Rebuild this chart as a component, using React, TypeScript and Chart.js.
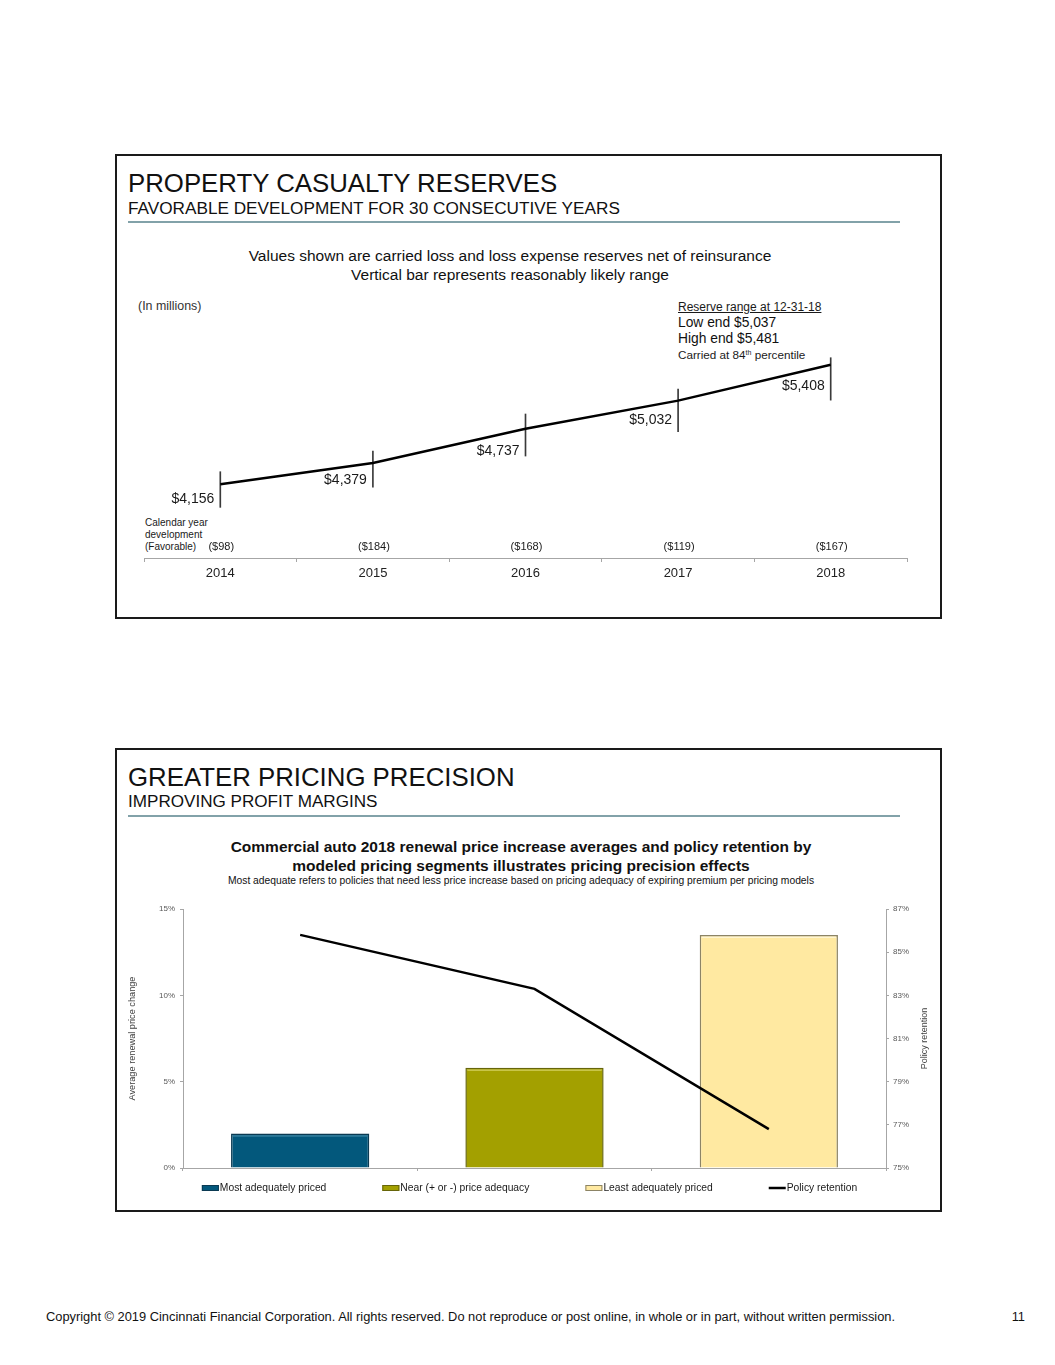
import React, { useEffect, useRef } from "react";
import { Chart, registerables } from "chart.js";

Chart.register(...registerables);

const FONT = '"Liberation Sans", Arial, Helvetica, sans-serif';

// ---------- Data: reserves chart ----------
const reserveYears = ["2014", "2015", "2016", "2017", "2018"];
const reserveValues = [4156, 4379, 4737, 5032, 5408];
const reserveLow = [3915, 4125, 4452, 4707, 5037];
const reserveHigh = [4288, 4505, 4892, 5154, 5481];
const devValues = [-98, -184, -168, -119, -167];

// ---------- Data: pricing chart ----------
const segmentLabels = ["Most adequately priced", "Near (+ or -) price adequacy", "Least adequately priced"];
const priceChange = [2.0, 5.8, 13.5];
const retentionLabel = "Policy retention";
const retention = [85.8, 83.3, 76.8];
const priceAxis = { min: 0, max: 15, step: 5 };
const retentionAxis = { min: 75, max: 87, step: 2 };

// styling (not data)
const VALUE_LABEL_DY = [15, 17, 22, 20, 21];
const SEG_FILL = ["#03587c", "#a3a000", "#ffe9a1"];
const SEG_BORDER = ["#0b3a52", "#66650a", "#8c8466"];
const SEG_HI = ["#4f93b0", "#cfcc55", "#fff6d6"];

const money = (v: number) => "$" + v.toLocaleString("en-US");
const dev = (v: number) => "($" + Math.abs(v).toLocaleString("en-US") + ")";

function Txt(props: { x: number; cy: number; fs: number; children: any; align?: "left" | "center" | "right"; bold?: boolean; color?: string; underline?: boolean }) {
  const { x, cy, fs, align = "left", bold, color = "#111", underline } = props;
  const style: any = {
    position: "absolute",
    top: cy - fs * 0.59,
    fontSize: fs,
    lineHeight: `${fs * 1.2}px`,
    fontFamily: FONT,
    fontWeight: bold ? "bold" : "normal",
    color,
    whiteSpace: "nowrap",
    textDecoration: underline ? "underline" : "none",
  };
  if (align === "left") style.left = x;
  else if (align === "right") { style.right = 1055 - x; }
  else { style.left = x - 500; style.width = 1000; style.textAlign = "center"; }
  return <div style={style}>{props.children}</div>;
}

const reserveLabelsPlugin = {
  id: "reserveLabels",
  afterDatasetsDraw(chart: any) {
    const ctx = chart.ctx;
    const xs = chart.scales.x;
    const ys = chart.scales.y;
    ctx.save();
    ctx.fillStyle = "#1a1a1a";
    ctx.font = `14px ${FONT}`;
    ctx.textAlign = "right";
    ctx.textBaseline = "middle";
    reserveValues.forEach((v, i) => {
      const x = xs.getPixelForValue(i);
      const y = ys.getPixelForValue(v);
      ctx.fillText(money(v), x - 6, y + VALUE_LABEL_DY[i]);
    });
    ctx.font = `11px ${FONT}`;
    ctx.textAlign = "center";
    devValues.forEach((v, i) => {
      const x = xs.getPixelForValue(i);
      ctx.fillText(dev(v), x + 1, xs.top - 11);
    });
    ctx.restore();
  },
};

function ReserveChart() {
  const ref = useRef<HTMLCanvasElement>(null);
  useEffect(() => {
    const chart = new Chart(ref.current!, {
      type: "bar",
      data: {
        labels: reserveYears,
        datasets: [
          {
            type: "line",
            data: reserveValues,
            borderColor: "#000",
            borderWidth: 2.5,
            pointRadius: 0,
            tension: 0,
            order: 0,
          } as any,
          {
            type: "bar",
            data: reserveLow.map((l, i) => [l, reserveHigh[i]]),
            backgroundColor: "#3a3a3a",
            borderWidth: 0,
            barThickness: 1,
            order: 1,
          } as any,
        ],
      },
      options: {
        responsive: false,
        animation: false,
        layout: { padding: { left: 29, right: 34, top: 10, bottom: 0 } },
        plugins: { legend: { display: false }, tooltip: { enabled: false } },
        scales: {
          x: {
            grid: { display: true, drawOnChartArea: false, drawTicks: true, tickLength: 4, color: "#a6a6a6", offset: true },
            border: { color: "#a6a6a6", width: 1 },
            ticks: { font: { family: FONT, size: 13 }, color: "#222", padding: 4 },
            afterFit: (s: any) => { s.height = 42; },
          },
          y: { display: false, min: 3385, max: 6085 },
        },
      } as any,
      plugins: [reserveLabelsPlugin],
    });
    return () => chart.destroy();
  }, []);
  return <canvas ref={ref} width={826} height={310} style={{ position: "absolute", left: 115, top: 290 }} />;
}

const pricingExtrasPlugin = {
  id: "pricingExtras",
  afterDatasetsDraw(chart: any) {
    const ctx = chart.ctx;
    // bevel highlight on bars
    ctx.save();
    for (let d = 0; d < 3; d++) {
      const meta = chart.getDatasetMeta(d + 1);
      const el: any = meta.data[d];
      if (!el) continue;
      const w = el.width;
      const l = el.x - w / 2 + 2;
      const r = el.x + w / 2 - 2;
      ctx.strokeStyle = SEG_HI[d];
      ctx.lineWidth = 1;
      ctx.beginPath();
      ctx.moveTo(l, el.y + 2.5);
      ctx.lineTo(r, el.y + 2.5);
      ctx.stroke();
    }
    ctx.restore();
  },
  afterDraw(chart: any) {
    const ctx = chart.ctx;
    const ca = chart.chartArea;
    ctx.save();
    // right axis title (reads bottom-to-top)
    ctx.font = `9px ${FONT}`;
    ctx.fillStyle = "#404040";
    ctx.textAlign = "center";
    ctx.textBaseline = "middle";
    ctx.translate(805, (ca.top + ca.bottom) / 2);
    ctx.rotate(-Math.PI / 2);
    ctx.fillText(retentionLabel, 0, 0);
    ctx.restore();

    // legend
    ctx.save();
    ctx.font = `10.3px ${FONT}`;
    ctx.textBaseline = "middle";
    const items = [...segmentLabels, retentionLabel];
    const boxW = 17, gapText = 1, gapItem = 56;
    const widths = items.map((t) => boxW + gapText + ctx.measureText(t).width);
    const total = widths.reduce((a, b) => a + b, 0) + gapItem * (items.length - 1);
    let x = 409.5 - total / 2;
    const y = 293;
    items.forEach((t, i) => {
      if (i < 3) {
        ctx.fillStyle = SEG_FILL[i];
        ctx.fillRect(x, y - 3, boxW, 6);
        ctx.strokeStyle = SEG_BORDER[i];
        ctx.lineWidth = 1;
        ctx.strokeRect(x + 0.5, y - 2.5, boxW - 1, 5);
      } else {
        ctx.strokeStyle = "#000";
        ctx.lineWidth = 2.5;
        ctx.beginPath();
        ctx.moveTo(x, y);
        ctx.lineTo(x + boxW, y);
        ctx.stroke();
      }
      ctx.fillStyle = "#1a1a1a";
      ctx.textAlign = "left";
      ctx.fillText(t, x + boxW + gapText, y);
      x += widths[i] + gapItem;
    });
    ctx.restore();
  },
};

function PricingChart() {
  const ref = useRef<HTMLCanvasElement>(null);
  useEffect(() => {
    const barSets = segmentLabels.map((lab, i) => ({
      type: "bar",
      label: lab,
      data: priceChange.map((v, j) => (j === i ? v : null)),
      backgroundColor: SEG_FILL[i],
      borderColor: SEG_BORDER[i],
      borderWidth: 1.5,
      yAxisID: "y",
      grouped: false,
      barPercentage: 0.59,
      categoryPercentage: 1,
      order: 1,
    }));
    const chart = new Chart(ref.current!, {
      type: "bar",
      data: {
        labels: segmentLabels,
        datasets: [
          {
            type: "line",
            label: retentionLabel,
            data: retention,
            borderColor: "#000",
            borderWidth: 2.5,
            pointRadius: 0,
            tension: 0,
            yAxisID: "y1",
            order: 0,
          } as any,
          ...(barSets as any[]),
        ],
      },
      options: {
        responsive: false,
        animation: false,
        layout: { padding: { left: 0, right: 0, top: 14, bottom: 0 } },
        plugins: { legend: { display: false }, tooltip: { enabled: false } },
        scales: {
          x: {
            grid: { display: true, drawOnChartArea: false, tickLength: 3, color: "#a6a6a6", offset: true },
            border: { color: "#a6a6a6", width: 1 },
            ticks: { display: false },
            afterFit: (s: any) => { s.height = 37; },
          },
          y: {
            position: "left",
            min: priceAxis.min,
            max: priceAxis.max,
            ticks: {
              stepSize: priceAxis.step,
              callback: (v: any) => v + "%",
              font: { family: FONT, size: 8 },
              color: "#595959",
              padding: 5,
            },
            grid: { drawOnChartArea: false, tickLength: 3, color: "#a6a6a6" },
            border: { color: "#a6a6a6", width: 1 },
            title: {
              display: true,
              text: "Average renewal price change",
              font: { family: FONT, size: 9.2 },
              color: "#404040",
              padding: { top: 7, bottom: 0 },
            },
            afterFit: (s: any) => { s.width = 63; },
          },
          y1: {
            position: "right",
            min: retentionAxis.min,
            max: retentionAxis.max,
            ticks: {
              stepSize: retentionAxis.step,
              callback: (v: any) => v + "%",
              font: { family: FONT, size: 8 },
              color: "#595959",
              padding: 4,
            },
            grid: { drawOnChartArea: false, tickLength: 3, color: "#a6a6a6" },
            border: { color: "#a6a6a6", width: 1 },
            afterFit: (s: any) => { s.width = 54; },
          },
        },
      } as any,
      plugins: [pricingExtrasPlugin],
    });
    return () => chart.destroy();
  }, []);
  return <canvas ref={ref} width={820} height={310} style={{ position: "absolute", left: 120, top: 895 }} />;
}

function Panel(props: { top: number; height: number }) {
  return (
    <div
      style={{
        position: "absolute",
        left: 115,
        top: props.top,
        width: 827,
        height: props.height,
        border: "2px solid #1a1a1a",
        boxSizing: "border-box",
      }}
    />
  );
}

function Rule(props: { y: number }) {
  return <div style={{ position: "absolute", left: 128, top: props.y - 1, width: 772, height: 2, background: "#82a2a9" }} />;
}

export default function App() {
  return (
    <div style={{ position: "absolute", left: 0, top: 0, width: 1055, height: 1365, background: "#fff", overflow: "hidden" }}>
      {/* Top panel */}
      <Panel top={154} height={465} />
      <Txt x={128} cy={183} fs={25.8}>PROPERTY CASUALTY RESERVES</Txt>
      <Txt x={128} cy={208} fs={17.2}>FAVORABLE DEVELOPMENT FOR 30 CONSECUTIVE YEARS</Txt>
      <Rule y={222} />
      <Txt x={510} cy={256} fs={15.5} align="center">Values shown are carried loss and loss expense reserves net of reinsurance</Txt>
      <Txt x={510} cy={275} fs={15.5} align="center">Vertical bar represents reasonably likely range</Txt>
      <Txt x={138} cy={306} fs={12.4} color="#333">(In millions)</Txt>
      <Txt x={678} cy={307} fs={12} underline color="#1a1a1a">Reserve range at 12-31-18</Txt>
      <Txt x={678} cy={323} fs={13.8}>Low end $5,037</Txt>
      <Txt x={678} cy={339} fs={13.8}>High end $5,481</Txt>
      <Txt x={678} cy={355} fs={11.7} color="#1a1a1a">
        Carried at 84<sup style={{ fontSize: 7, verticalAlign: "top", position: "relative", top: -2 }}>th</sup> percentile
      </Txt>
      <Txt x={145} cy={523} fs={10} color="#1a1a1a">Calendar year</Txt>
      <Txt x={145} cy={535} fs={10} color="#1a1a1a">development</Txt>
      <Txt x={145} cy={547} fs={10} color="#1a1a1a">(Favorable)</Txt>
      <ReserveChart />

      {/* Bottom panel */}
      <Panel top={748} height={464} />
      <Txt x={128} cy={777} fs={25.8}>GREATER PRICING PRECISION</Txt>
      <Txt x={128} cy={802} fs={17.1}>IMPROVING PROFIT MARGINS</Txt>
      <Rule y={816} />
      <Txt x={521} cy={847} fs={15.5} bold align="center">Commercial auto 2018 renewal price increase averages and policy retention by</Txt>
      <Txt x={521} cy={866} fs={15.5} bold align="center">modeled pricing segments illustrates pricing precision effects</Txt>
      <Txt x={521} cy={881} fs={10.3} align="center">Most adequate refers to policies that need less price increase based on pricing adequacy of expiring premium per pricing models</Txt>
      <PricingChart />

      {/* Footer */}
      <Txt x={46} cy={1317} fs={12.85}>Copyright © 2019 Cincinnati Financial Corporation. All rights reserved. Do not reproduce or post online, in whole or in part, without written permission.</Txt>
      <Txt x={1025} cy={1317} fs={12.85} align="right">11</Txt>
    </div>
  );
}
